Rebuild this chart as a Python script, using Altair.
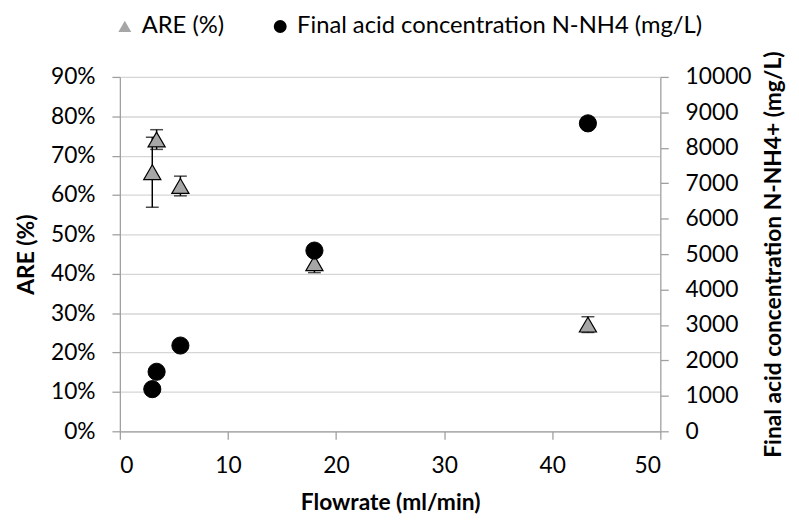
import altair as alt
import pandas as pd

flow = [3.0, 3.4, 5.6, 18.0, 43.3]
are = [0.658, 0.741, 0.623, 0.427, 0.271]
are_err = [0.089, 0.025, 0.025, 0.024, 0.02]
conc = [1190, 1680, 2420, 5100, 8690]
left_ticks = [0.0, 0.1, 0.2, 0.3, 0.4, 0.5, 0.6, 0.7, 0.8, 0.9]
right_ticks = [0, 1000, 2000, 3000, 4000, 5000, 6000, 7000, 8000, 9000, 10000]
x_ticks = [0, 10, 20, 30, 40, 50]

S1 = "ARE (%)"
S2 = "Final acid concentration N-NH4 (mg/L)"

df1 = pd.DataFrame({
    "flow": flow,
    "are": are,
    "lo": [round(a - e, 4) for a, e in zip(are, are_err)],
    "hi": [round(a + e, 4) for a, e in zip(are, are_err)],
    "series": S1,
})
df2 = pd.DataFrame({"flow": flow, "conc": conc, "series": S2})

FONT = "Lato"
AX = "#a0a0a0"

shape_scale = alt.Scale(domain=[S1, S2], range=["triangle-up", "circle"])
fill_scale = alt.Scale(domain=[S1, S2], range=["#a6a6a6", "#000000"])

xaxis = alt.Axis(values=x_ticks, title="Flowrate (ml/min)", grid=False, tickSize=8,
                 labelPadding=16, titlePadding=14, labelOverlap=False)
xscale = alt.Scale(domain=[0, 50])

yleft_scale = alt.Scale(domain=[0, 0.9])
yleft_axis = alt.Axis(values=left_ticks, format=".0%", title="ARE (%)",
                      grid=True, gridColor="#d6d6d6", gridWidth=1.3, labelOverlap=False,
                      tickSize=8, labelPadding=17, titlePadding=12)

base1 = alt.Chart(df1)
rules = base1.mark_rule(color="black", strokeWidth=1.5).encode(
    x=alt.X("flow:Q", scale=xscale, axis=xaxis),
    y=alt.Y("lo:Q", scale=yleft_scale, axis=yleft_axis),
    y2="hi:Q",
)
cap_lo = base1.mark_tick(color="black", orient="horizontal", size=13, thickness=1.5).encode(
    x=alt.X("flow:Q", scale=xscale, axis=xaxis),
    y=alt.Y("lo:Q", scale=yleft_scale, axis=yleft_axis),
)
cap_hi = base1.mark_tick(color="black", orient="horizontal", size=13, thickness=1.5).encode(
    x=alt.X("flow:Q", scale=xscale, axis=xaxis),
    y=alt.Y("hi:Q", scale=yleft_scale, axis=yleft_axis),
)
legend = alt.Legend(title=None, orient="none", legendX=-7, legendY=-63, direction="horizontal",
                    symbolSize=170, labelOffset=5, columnPadding=44, labelLimit=800,
                    symbolStrokeColor="black", symbolStrokeWidth=1, padding=0)
tri = base1.mark_point(filled=True, size=300, stroke="black", strokeWidth=1.2, opacity=1).encode(
    x=alt.X("flow:Q", scale=xscale, axis=xaxis),
    y=alt.Y("are:Q", scale=yleft_scale, axis=yleft_axis),
    shape=alt.Shape("series:N", scale=shape_scale, legend=legend),
    fill=alt.Fill("series:N", scale=fill_scale, legend=legend),
)

circ = alt.Chart(df2).mark_point(filled=True, size=300, stroke="black", strokeWidth=1, opacity=1).encode(
    x=alt.X("flow:Q", scale=xscale, axis=xaxis),
    y=alt.Y("conc:Q", scale=alt.Scale(domain=[0, 10000]),
            axis=alt.Axis(orient="right", values=right_ticks, grid=False, format="d",
                          title="Final acid concentration N-NH4+ (mg/L)", labelOverlap=False,
                          titleAngle=270, titleBaseline="top",
                          tickSize=8, labelPadding=17, titlePadding=12)),
    shape=alt.Shape("series:N", scale=shape_scale, legend=legend),
    fill=alt.Fill("series:N", scale=fill_scale, legend=legend),
)

left = alt.layer(rules, cap_lo, cap_hi, tri)
chart = alt.layer(left, circ).resolve_scale(y="independent").properties(
    width=546, height=358,
    autosize=alt.AutoSizeParams(type="none"),
    padding={"left": 113, "top": 67, "right": 132, "bottom": 90},
).configure_view(stroke=None).configure_axis(
    labelFont=FONT, titleFont=FONT, labelFontSize=23, titleFontSize=23,
    labelColor="black", titleColor="black", titleFontWeight="bold",
    domainColor=AX, tickColor=AX, domainWidth=1.3, tickWidth=1.3,
).configure_legend(labelFont=FONT, labelFontSize=24, labelColor="black")

chart.save("out.html", embed_options={"renderer": "svg", "actions": False})
